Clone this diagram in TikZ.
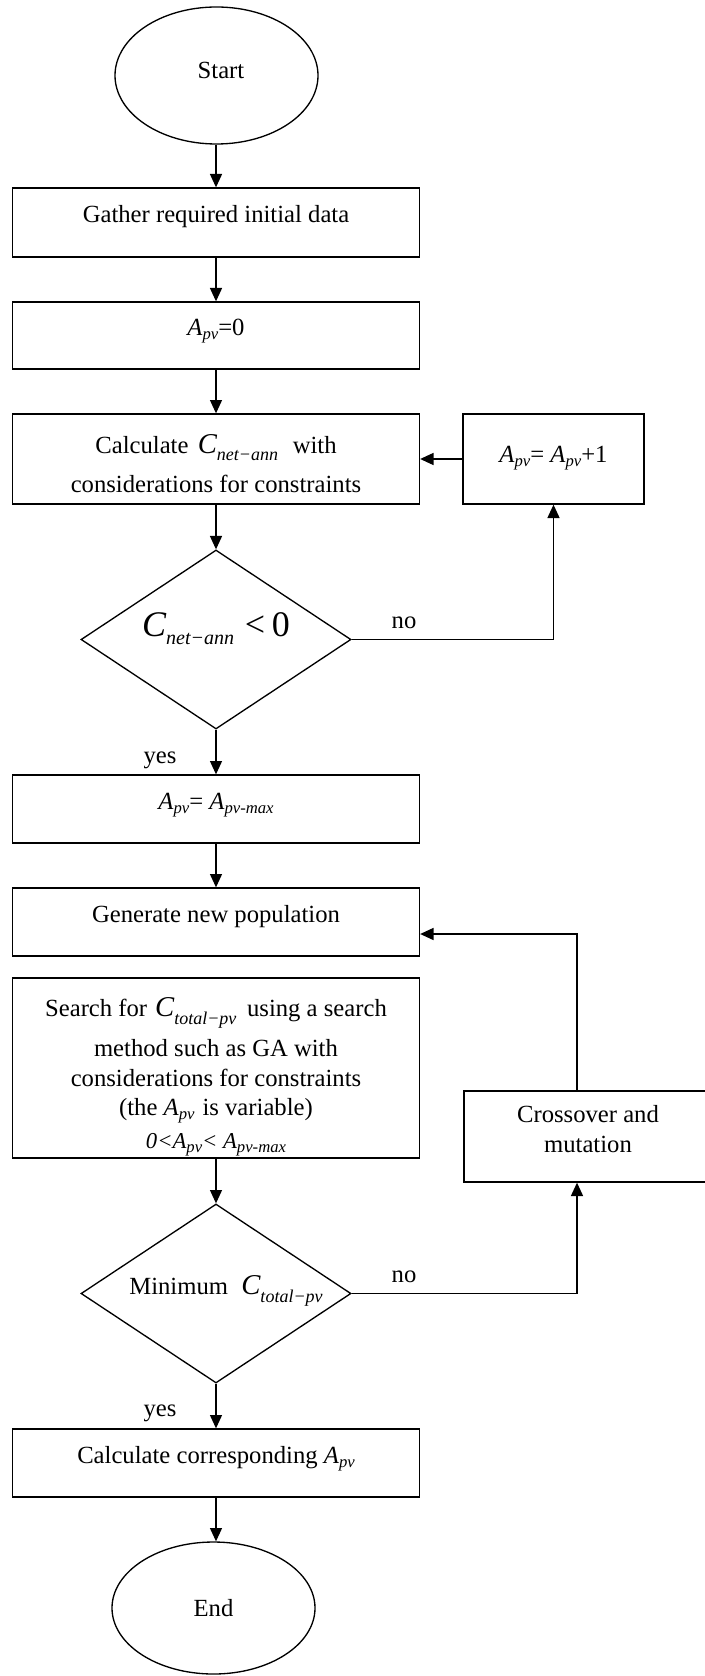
\documentclass[tikz,border=0pt]{standalone}
\usepackage{fontspec}
\setmainfont{Liberation Serif}
\usetikzlibrary{shapes.geometric,arrows.meta}
\newcommand{\fs}[2]{{\fontsize{#1}{#1}\selectfont #2}}
\newcommand{\lsub}[3]{\raisebox{-#1}{\fontsize{#2}{#2}\selectfont\itshape #3}}
\newcommand{\Apv}{\textit{A}\lsub{3pt}{12.5pt}{pv}}
\newcommand{\Apvmax}{\textit{A}\lsub{3pt}{12.5pt}{pv-max}}
\newcommand{\Cnet}{\fs{21.5pt}{\itshape C}\lsub{5pt}{13.5pt}{net−ann}}
\newcommand{\Ctot}{\fs{21.5pt}{\itshape C}\lsub{5.5pt}{13.5pt}{total−pv}}
\begin{document}
\begin{tikzpicture}[x=0.75pt,y=-0.75pt,
  every node/.style={font=\fontsize{18.5pt}{22pt}\selectfont},
  shp/.style={draw,line width=1pt,inner sep=0pt,align=center},
  box/.style={shp,rectangle,minimum width=305.25pt},
  one/.style={text height=14pt,text depth=14pt},
  arr/.style={line width=1pt,-{Triangle[length=10pt,width=9pt]}},
  lbl/.style={inner sep=0pt,anchor=base}]
\useasboundingbox (0,0) rectangle (705,1676);
\clip (0,0) rectangle (705,1676);
\fill[white] (0,0) rectangle (705,1676);

\node[shp,ellipse,minimum width=152.25pt,minimum height=102.75pt,text height=14pt,text depth=8.8pt] (start) at (216.5,75.5) {\hspace*{6.75pt}Start};
\node[box,one,minimum height=51.75pt] (gather) at (216,222.5) {Gather required initial data};
\node[box,one,minimum height=50.25pt] (apv0) at (216,335.5) {\Apv=0};
\node[box,minimum height=67.5pt,text height=52pt,text depth=2.5pt] (calc) at (216,459) {Calculate\hspace{7pt}\Cnet\hspace{11pt}with\\[7pt]considerations for constraints};
\node[shp,rectangle,minimum width=135.75pt,minimum height=67.5pt,text height=14pt,text depth=9.5pt] (inc) at (553.5,459) {\Apv= \Apv+1};
\node[shp,diamond,aspect=1.5,minimum width=202.5pt,minimum height=134.25pt,text height=20pt,text depth=23.8pt] (d1) at (216,639.5) {\fs{27pt}{\itshape C}\lsub{6pt}{15pt}{net−ann}\hspace{8pt}\fs{27pt}{<\hspace{5pt}0}};
\node[lbl] (no1) at (404,628) {no};
\node[lbl] (yes1) at (160,763) {yes};
\node[box,one,minimum height=51pt] (apvmax) at (216,809) {\Apv= \Apvmax};
\node[box,one,minimum height=51pt] (gen) at (216,922) {Generate new population};
\node[box,minimum height=135pt,text height=122pt,text depth=2pt] (search) at (216,1068) {Search for\hspace{6pt}\Ctot\hspace{8pt}using a search\\[8pt]method such as GA with\\considerations for constraints\\(the \Apv\hspace{6pt}is variable)\\[2.5pt]\fs{17pt}{\itshape 0<\Apv< \Apvmax}};
\node[shp,rectangle,minimum width=186pt,minimum height=68.25pt,text height=25pt,text depth=1.75pt] (cross) at (588,1136.5) {Crossover and\\mutation};
\node[shp,diamond,aspect=1.5,minimum width=202.5pt,minimum height=134.25pt,text height=12pt,text depth=9.8pt] (d2) at (216,1293.5) {\hspace*{15pt}Minimum\hspace{10pt}\Ctot};
\node[lbl] (no2) at (404,1282) {no};
\node[lbl] (yes2) at (160,1416) {yes};
\node[box,one,minimum height=51pt] (corr) at (216,1463) {Calculate corresponding \Apv};
\node[shp,ellipse,minimum width=152.25pt,minimum height=99pt] (end) at (213.5,1608) {End};

\draw[arr] (start.south -| gather.north) -- (gather.north);
\draw[arr] (gather) -- (apv0);
\draw[arr] (apv0) -- (calc);
\draw[arr] (calc) -- (d1);
\draw[arr] (inc) -- (calc);
\draw[arr] (d1.east) -| (inc.south);
\draw[arr] (d1) -- (apvmax);
\draw[arr] (apvmax) -- (gen);
\draw[arr] (search) -- (d2);
\draw[arr] (d2.east) -| ([xshift=-8.25pt]cross.south);
\draw[arr] ([xshift=-8.25pt]cross.north) |- ([yshift=-9pt]gen.east);
\draw[arr] (d2) -- (corr);
\draw[arr] (corr.south) -- (corr.south |- end.north);
\end{tikzpicture}
\end{document}
